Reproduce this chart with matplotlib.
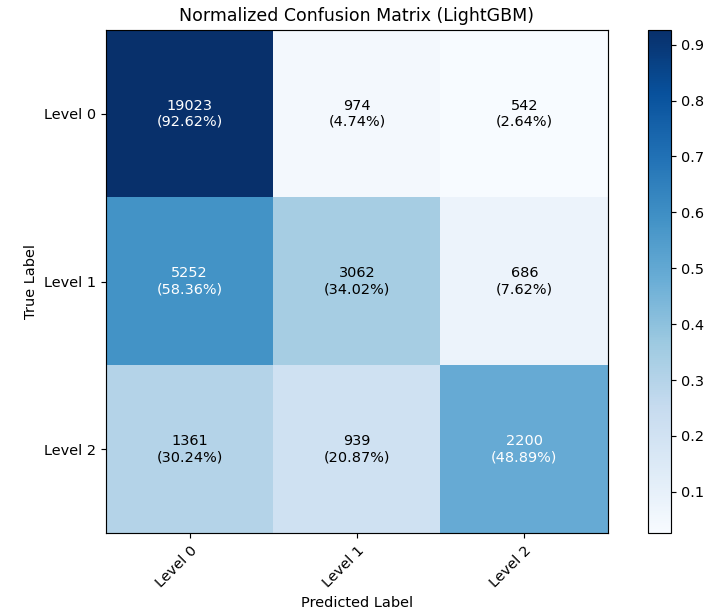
import numpy as np
import matplotlib.pyplot as plt

classes = ['Level 0', 'Level 1', 'Level 2']
counts = np.array([[19023, 974, 542],
                   [5252, 3062, 686],
                   [1361, 939, 2200]])

# row-normalize so each true class sums to 1
cm = counts / counts.sum(axis=1, keepdims=True)

fig = plt.figure(figsize=(710 / 104, 614 / 104), dpi=104)
ax = fig.add_axes([0.1493, 0.1319, 0.707, 0.8192])
cax = fig.add_axes([0.9127, 0.1319, 0.0324, 0.8192])

im = ax.imshow(cm, interpolation='nearest', cmap=plt.cm.Blues, aspect='auto')
ax.set_title('Normalized Confusion Matrix (LightGBM)')
fig.colorbar(im, cax=cax)

ticks = np.arange(len(classes))
ax.set_xticks(ticks)
ax.set_xticklabels(classes, rotation=45, ha='right', rotation_mode='anchor')
ax.set_yticks(ticks)
ax.set_yticklabels(classes)

thresh = cm.max() / 2.
for i in range(cm.shape[0]):
    for j in range(cm.shape[1]):
        ax.text(j, i, '{}\n({:.2f}%)'.format(counts[i, j], cm[i, j] * 100),
                ha='center', va='center',
                color='white' if cm[i, j] > thresh else 'black')

ax.set_ylabel('True Label')
ax.set_xlabel('Predicted Label')

fig.savefig('out.png', dpi=104)
